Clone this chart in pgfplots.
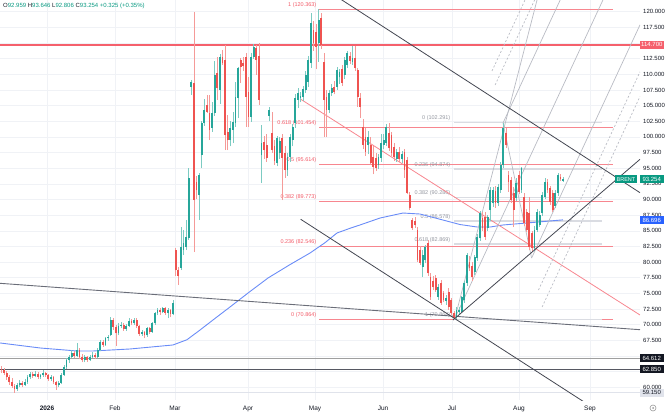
\documentclass[border=0pt]{standalone}
\usepackage{pgfplots}
\pgfplotsset{compat=1.18}
\usepackage{pgfplotstable}
\usepackage{fontspec}
\setmainfont{Liberation Sans}
\definecolor{upc}{HTML}{26A69A}
\definecolor{dnc}{HTML}{EF5350}
\definecolor{upw}{HTML}{7CCBC2}
\definecolor{dnw}{HTML}{F59A98}
\definecolor{fibred}{HTML}{F7868F}
\definecolor{fibredtxt}{HTML}{F25C69}
\definecolor{fibgray}{HTML}{DADCE2}
\definecolor{fibgraytxt}{HTML}{9598A1}
\definecolor{pitch}{HTML}{B8BBC3}
\definecolor{trend}{HTML}{434651}
\definecolor{longl}{HTML}{6A6D78}
\definecolor{mac}{HTML}{6A8CF7}
\definecolor{hl}{HTML}{F5606C}
\definecolor{gridc}{HTML}{F0F2F6}
\definecolor{tickc}{HTML}{131722}
\definecolor{brentc}{HTML}{089981}
\definecolor{bluec}{HTML}{2962FF}
\definecolor{blk}{HTML}{131722}
\definecolor{lgray}{HTML}{E0E3EB}
\definecolor{hdr}{HTML}{089981}
\tikzset{fl/.style={anchor=south east, inner sep=0.5pt, yshift=1pt, font=\fontsize{5.5}{6}\selectfont},
  pl/.style={anchor=west, inner xsep=1.5pt, inner ysep=1.2pt, font=\fontsize{6}{7}\selectfont, text=white, minimum width=24pt, minimum height=8pt}}
\pgfplotstableread{
i o h l c
0 63.0 63.4 62.3 62.8
1 62.8 63.1 61.9 62.3
2 62.3 62.6 61.2 61.6
3 61.6 61.9 60.4 60.8
4 60.8 61.5 59.9 60.2
5 60.2 60.6 59.15 59.7
6 59.7 60.7 59.4 60.3
7 60.3 61.2 60.0 60.7
8 60.7 61.0 60.0 60.4
9 60.4 61.3 60.2 60.9
10 60.9 61.9 60.6 61.6
11 61.6 62.5 61.3 62.1
12 62.1 62.4 61.5 61.8
13 61.8 62.6 61.6 62.2
14 62.2 62.5 61.4 61.7
15 61.7 62.2 61.3 61.9
16 61.9 62.7 61.7 62.3
17 62.3 62.5 61.6 61.9
18 61.9 62.1 61.0 61.3
19 61.3 61.9 61.0 61.6
20 61.6 61.8 60.5 60.8
21 60.8 61.0 59.6 60.3
22 60.3 61.0 60.0 60.7
23 60.7 62.3 60.5 62.0
24 62.0 63.5 61.8 63.2
25 63.2 64.6 63.0 64.3
26 64.3 65.2 63.9 64.9
27 64.9 65.9 64.6 65.5
28 65.5 65.8 64.7 65.0
29 65.0 67.1 64.8 66.0
30 66.0 66.3 64.5 64.8
31 64.8 65.3 64.0 64.3
32 64.3 65.1 64.0 64.8
33 64.8 65.0 64.1 64.4
34 64.4 65.2 64.2 64.9
35 64.9 65.6 64.6 65.2
36 65.2 65.5 64.5 64.8
37 64.8 66.3 64.6 66.0
38 66.0 67.5 65.8 67.2
39 67.2 67.6 66.5 66.8
40 66.8 68.1 66.6 67.8
41 67.8 68.4 67.4 68.1
42 68.3 71.2 68.2 70.8
43 70.8 71.0 69.2 69.6
44 69.6 69.9 66.6 68.6
45 68.6 70.2 68.3 69.8
46 69.8 70.4 69.4 70.0
47 70.0 70.2 69.0 69.3
48 69.3 70.1 69.0 69.8
49 69.8 71.0 69.6 70.6
50 70.6 70.9 69.9 70.2
51 70.2 71.1 70.0 70.8
52 70.8 71.0 69.5 69.8
53 69.8 70.0 68.2 68.5
54 68.5 69.2 68.2 68.8
55 68.8 69.0 67.8 68.3
56 68.3 69.7 68.1 69.4
57 69.4 69.6 68.5 68.9
58 68.9 70.5 68.7 70.2
59 70.2 72.1 70.0 71.8
60 71.8 72.7 71.5 72.4
61 72.4 72.6 71.6 72.0
62 72.0 72.9 71.8 72.6
63 72.6 72.8 71.6 71.9
64 71.9 72.6 71.0 72.3
65 72.3 72.5 71.2 71.7
66 71.7 73.9 71.5 73.5
67 81.9 82.2 77.8 78.7
68 78.7 79.2 76.4 77.8
69 79.1 85.6 78.7 82.4
70 81.9 85.1 81.1 83.0
71 82.4 86.7 81.9 84.0
72 83.8 95.0 83.5 93.4
73 108.0 109.1 106.7 108.8
74 108.6 120.0 81.6 89.9
75 92.8 93.8 90.0 91.5
76 90.7 94.2 86.7 93.9
77 97.1 102.6 95.0 102.2
78 102.2 106.0 101.8 104.3
79 105.1 106.7 103.8 104.0
80 103.8 106.7 99.5 101.1
81 101.5 105.5 100.8 103.8
82 103.8 112.2 103.3 109.9
83 110.2 112.8 105.9 107.8
84 107.5 113.3 105.3 112.8
85 112.8 113.9 111.5 111.8
86 112.3 114.7 97.9 100.3
87 100.8 103.5 97.9 99.5
88 99.5 102.5 98.5 101.5
89 101.1 104.0 99.0 102.4
90 102.2 108.8 101.6 106.4
91 106.2 111.2 103.0 111.0
92 112.3 112.6 108.6 111.2
93 111.8 112.8 110.5 111.4
94 112.8 113.4 101.6 106.4
95 107.2 109.6 101.6 103.2
96 103.2 113.4 102.4 112.8
97 112.8 114.9 112.5 114.4
98 114.2 114.7 109.9 112.3
99 113.0 115.0 105.1 105.9
100 97.1 101.9 92.6 99.0
101 99.2 100.2 96.5 97.9
102 98.7 100.5 96.0 96.6
103 103.4 104.8 102.5 104.3
104 100.6 104.0 97.5 97.9
105 98.5 99.5 95.5 96.2
106 95.8 100.2 95.3 99.8
107 97.5 100.0 96.5 99.4
108 99.8 100.5 89.9 96.7
109 97.4 98.5 93.5 94.7
110 94.7 97.5 93.8 96.8
111 96.8 100.5 96.0 100.0
112 99.5 102.0 98.5 101.6
113 102.2 106.8 101.5 106.2
114 105.9 107.8 104.6 107.0
115 106.2 107.2 105.5 106.6
116 106.4 108.2 105.8 107.6
117 107.5 110.5 107.0 109.9
118 108.8 113.0 108.0 112.3
119 111.8 119.8 111.0 118.2
120 117.1 118.5 113.8 115.0
121 116.8 118.0 110.8 114.4
122 115.0 120.363 112.0 118.7
123 119.0 119.8 114.0 114.7
124 112.0 113.4 100.0 105.9
125 106.4 107.5 100.0 104.3
126 104.3 107.5 103.8 107.0
127 107.0 108.5 106.5 107.8
128 108.0 109.0 106.8 107.2
129 108.0 111.2 107.5 110.7
130 109.5 110.8 108.5 110.3
131 110.8 111.5 108.2 108.6
132 109.9 112.8 109.2 112.3
133 111.5 113.8 111.0 113.4
134 113.0 113.6 111.6 112.2
135 112.0 114.5 111.5 112.6
136 112.6 114.6 110.6 111.0
137 110.7 111.0 104.8 106.4
138 106.2 107.0 103.0 104.8
139 101.6 102.8 98.0 98.7
140 100.0 101.5 97.0 97.6
141 98.7 101.0 97.2 100.0
142 98.7 100.0 95.5 95.8
143 96.8 98.5 94.0 95.2
144 96.6 97.5 94.6 95.0
145 95.5 97.2 94.8 96.8
146 96.6 100.5 96.0 99.0
147 98.7 100.5 98.0 99.5
148 99.0 102.0 98.6 101.6
149 100.6 102.2 97.8 98.2
150 100.3 100.8 97.0 97.5
151 98.4 99.0 96.2 96.8
152 96.5 98.0 96.0 97.6
153 97.6 98.4 96.0 96.4
154 96.4 97.8 95.8 97.2
155 97.6 98.0 93.5 94.7
156 96.3 96.8 90.8 91.0
157 90.7 91.2 88.3 88.6
158 86.7 87.0 85.2 85.4
159 86.5 87.2 85.5 85.9
160 85.1 85.6 80.0 80.3
161 82.0 82.6 79.5 79.9
162 79.2 81.9 77.6 81.1
163 80.3 82.8 79.8 82.4
164 83.0 83.6 77.8 78.2
165 77.6 78.2 74.0 74.4
166 77.0 77.8 75.5 76.0
167 77.4 78.0 75.2 75.5
168 74.4 76.5 74.0 76.0
169 76.6 77.2 73.2 73.4
170 75.0 75.4 73.6 73.9
171 73.8 74.8 73.2 74.2
172 75.2 75.8 72.4 72.8
173 73.9 74.3 71.6 71.8
174 71.8 72.2 70.864 71.0
175 71.2 72.8 70.95 72.3
176 72.0 72.8 71.6 72.4
177 72.0 74.6 71.8 74.4
178 73.9 77.0 73.5 76.6
179 76.6 81.5 76.2 81.1
180 80.0 81.0 78.5 79.0
181 79.4 80.0 77.0 77.6
182 78.4 81.2 78.0 80.8
183 80.6 84.5 80.2 84.0
184 83.8 88.2 83.4 87.8
185 87.0 88.0 85.0 85.4
186 87.2 88.0 83.6 84.0
187 85.4 87.5 85.0 87.2
188 88.3 92.0 86.5 91.5
189 89.4 92.0 88.8 91.5
190 91.3 92.2 88.7 89.4
191 89.4 92.5 89.0 92.0
192 91.5 96.0 91.0 95.5
193 95.5 102.291 95.0 101.4
194 100.6 101.5 98.2 98.7
195 93.9 94.5 91.2 92.8
196 93.1 93.6 89.5 89.9
197 91.0 92.0 85.6 88.3
198 90.2 93.5 89.7 92.6
199 93.9 94.5 90.8 91.2
200 91.5 95.2 91.0 95.0
201 90.4 91.0 85.8 86.2
202 88.0 88.5 84.8 85.1
203 87.8 90.4 81.9 82.4
204 84.6 85.0 81.6 82.2
205 82.2 85.8 81.8 85.1
206 85.1 88.5 84.8 88.0
207 86.0 88.2 85.6 87.6
208 87.8 91.2 87.4 90.7
209 90.4 93.4 90.0 92.8
210 92.8 93.2 91.0 91.5
211 91.8 92.2 89.2 89.6
212 91.0 91.5 88.0 88.3
213 89.0 91.5 88.6 91.0
214 91.0 94.2 90.6 93.9
215 93.6 94.0 92.9 93.2
216 92.959 93.646 92.806 93.254
}\candles
\begin{document}
\begin{tikzpicture}
\begin{axis}[at={(0pt,0pt)}, anchor=north west,
  width=640pt, height=400pt, scale only axis,
  xmin=0, xmax=640, ymin=57.97, ymax=121.87,
  set layers,
  clip mode=individual,
  axis line style={draw=none},
  major tick length=0pt,
  xtick={47,115,175,248,315,383,452,519,590},
  xticklabels={\textbf{2026},Feb,Mar,Apr,May,Jun,Jul,Aug,Sep},
  ytick={60,67.5,70,72.5,75,77.5,80,82.5,85,87.5,90,92.5,95,97.5,100,102.5,105,107.5,110,112.5,117.5,120},
  extra y ticks={62.5,65,115},
  extra y tick labels={},
  extra y tick style={grid=major},
  yticklabel pos=right,
  grid=major, grid style={gridc, line width=0.5pt},
  tick label style={font=\fontsize{6}{7}\selectfont, text=tickc},
  yticklabel={\pgfmathprintnumber[fixed,fixed zerofill,precision=3,assume math mode=true]{\tick}},
  yticklabel style={anchor=west, inner sep=0pt, xshift=3pt},
  xticklabel style={anchor=north, inner sep=0pt, yshift=-5.5pt, font=\fontsize{6.5}{7.5}\selectfont},
]
% horizontal price lines
\addplot[hl, line width=1.3pt] coordinates {(0,114.7) (640,114.7)};
\addplot[gray!75, line width=1.3pt] coordinates {(0,64.612) (640,64.612)};
\addplot[trend!90, line width=0.8pt] coordinates {(0,62.85) (640,62.85)};
\addplot[lgray, line width=0.8pt] coordinates {(0,59.15) (640,59.15)};
% red fib retracement
\addplot[fibred, line width=0.7pt] coordinates {(319,120.363) (613,120.363)};
\addplot[fibred, line width=0.7pt] coordinates {(319,101.454) (613,101.454)};
\addplot[fibred, line width=0.7pt] coordinates {(319,95.614) (613,95.614)};
\addplot[fibred, line width=0.7pt] coordinates {(319,89.773) (613,89.773)};
\addplot[fibred, line width=0.7pt] coordinates {(319,82.546) (613,82.546)};
\addplot[fibred, line width=0.7pt] coordinates {(319,70.864) (613,70.864)};
% gray fib retracement
\addplot[fibgray, line width=1.4pt] coordinates {(454,102.291) (602,102.291)};
\addplot[fibgray, line width=1.4pt] coordinates {(454,94.874) (602,94.874)};
\addplot[fibgray, line width=1.4pt] coordinates {(454,90.286) (602,90.286)};
\addplot[fibgray, line width=1.4pt] coordinates {(454,86.578) (602,86.578)};
\addplot[fibgray, line width=1.4pt] coordinates {(454,82.869) (602,82.869)};
\addplot[fibgray, line width=1.4pt] coordinates {(454,70.864) (602,70.864)};
% labels of fibs
\node[fl, text=fibredtxt] at (axis cs:317,120.363) {1 (120.363)};
\node[fl, text=fibredtxt] at (axis cs:317,101.454) {0.618 (101.454)};
\node[fl, text=fibredtxt] at (axis cs:317,95.614) {0.5 (95.614)};
\node[fl, text=fibredtxt] at (axis cs:317,89.773) {0.382 (89.773)};
\node[fl, text=fibredtxt] at (axis cs:317,82.546) {0.236 (82.546)};
\node[fl, text=fibredtxt] at (axis cs:317,70.864) {0 (70.864)};
\node[fl, text=fibgraytxt] at (axis cs:451,102.291) {0 (102.291)};
\node[fl, text=fibgraytxt] at (axis cs:451,94.874) {0.236 (94.874)};
\node[fl, text=fibgraytxt] at (axis cs:451,90.286) {0.382 (90.286)};
\node[fl, text=fibgraytxt] at (axis cs:451,86.578) {0.5 (86.578)};
\node[fl, text=fibgraytxt] at (axis cs:451,82.869) {0.618 (82.869)};
\node[fl, text=fibgraytxt] at (axis cs:451,70.864) {1 (70.864)};
% moving average
\addplot[mac, line width=0.9pt] coordinates {
(0,67.08) (40,66.28) (77,65.80) (93,65.80) (130,66.12) (173,66.76) (187,67.6) (200,69.15) (215,71.0) (230,72.83) (250,75.3) (268,77.46) (290,79.6) (310,81.45) (325,83.1) (337,84.65) (350,85.4) (360,85.93) (380,87.04) (403,87.84) (420,87.68) (443,86.72) (460,86.0) (477,85.61) (490,85.6) (503,85.93) (527,86.25) (545,86.5) (563,86.75)};
% long gray trend line
\addplot[longl, line width=0.9pt] coordinates {(0,76.61) (640,69.20)};
% red descending line
\addplot[fibred, line width=0.8pt] coordinates {(300,106.09) (640,71.55)};
% pitchfork and fan lines
\addplot[pitch, line width=0.7pt] coordinates {(455,71.07) (640,134.6)};
\addplot[pitch, line width=0.7pt] coordinates {(503,102.22) (640,149.3)};
\addplot[pitch, line width=0.7pt] coordinates {(531.6,80.65) (640,117.9)};
\addplot[pitch, line width=0.7pt] coordinates {(503,102.22) (531.6,80.65)};
\addplot[pitch, line width=0.7pt] coordinates {(455,71.07) (560,136.1)};
\addplot[pitch, line width=0.7pt, dash pattern=on 2pt off 2pt] coordinates {(492,110.53) (640,161.4)};
\addplot[pitch, line width=0.7pt, dash pattern=on 2pt off 2pt] coordinates {(495.1,108.29) (640,158.1)};
\addplot[pitch, line width=0.7pt, dash pattern=on 2pt off 2pt] coordinates {(538.5,75.54) (640,110.4)};
\addplot[pitch, line width=0.7pt, dash pattern=on 2pt off 2pt] coordinates {(542.1,72.83) (640,106.46)};
% candles: wicks
\addplot[draw=none, mark=none, restrict expr to domain={\thisrow{c}-\thisrow{o}}{0:1000},
  error bars/.cd, y dir=plus, y explicit, error mark=none, error bar style={draw=upw, line width=0.6pt}]
  table[x expr=1.5+2.6*\thisrow{i}, y=l, y error plus expr=\thisrow{h}-\thisrow{l}] {\candles};
\addplot[draw=none, mark=none, restrict expr to domain={\thisrow{o}-\thisrow{c}}{0.00001:1000},
  error bars/.cd, y dir=plus, y explicit, error mark=none, error bar style={draw=dnw, line width=0.6pt}]
  table[x expr=1.5+2.6*\thisrow{i}, y=l, y error plus expr=\thisrow{h}-\thisrow{l}] {\candles};
% candles: bodies
\addplot[draw=none, mark=none, restrict expr to domain={\thisrow{c}-\thisrow{o}}{0:1000},
  error bars/.cd, y dir=plus, y explicit, error mark=none, error bar style={draw=upc, line width=1.9pt}]
  table[x expr=1.5+2.6*\thisrow{i}, y=o, y error plus expr=\thisrow{c}-\thisrow{o}] {\candles};
\addplot[draw=none, mark=none, restrict expr to domain={\thisrow{o}-\thisrow{c}}{0.00001:1000},
  error bars/.cd, y dir=plus, y explicit, error mark=none, error bar style={draw=dnc, line width=1.9pt}]
  table[x expr=1.5+2.6*\thisrow{i}, y=c, y error plus expr=\thisrow{o}-\thisrow{c}] {\candles};
% black trend lines
\addplot[trend, line width=0.8pt] coordinates {(330,123.1) (640,91.09)};
\addplot[trend, line width=0.8pt] coordinates {(453,70.75) (640,96.42)};
\addplot[trend, line width=0.8pt] coordinates {(300.7,86.84) (640,51.9)};
% header
\node[anchor=west, inner sep=0pt, font=\fontsize{6}{7}\selectfont] at (axis cs:3,120.95)
 {\textcolor{tickc}{O}\textcolor{hdr}{92.959}\ \textcolor{tickc}{H}\textcolor{hdr}{93.646}\ \textcolor{tickc}{L}\textcolor{hdr}{92.806}\ \textcolor{tickc}{C}\textcolor{hdr}{93.254}\ \textcolor{hdr}{+0.325 (+0.35\%)}};
% right scale labels
\node[pl, fill=hl] at (axis cs:639.5,114.7) {114.700};
\node[pl, fill=brentc] at (axis cs:639.5,93.254) {93.254};
\node[anchor=east, inner xsep=2pt, inner ysep=1.2pt, minimum height=8pt, fill=brentc, text=white, font=\fontsize{5.5}{6}\selectfont] at (axis cs:637.5,93.254) {BRENT};
\node[pl, fill=bluec] at (axis cs:639.5,86.696) {86.696};
\node[pl, fill=blk] at (axis cs:639.5,64.612) {64.612};
\node[pl, fill=blk] at (axis cs:639.5,62.85) {62.850};
\node[pl, fill=lgray, text=tickc] at (axis cs:639.5,59.15) {59.150};
\end{axis}
\draw[gray!80, line width=0.6pt] (653pt,-408pt) circle (3pt);
\fill[gray!80] (653pt,-408pt) circle (1pt);
\pgfresetboundingbox
\path[use as bounding box] (0pt,0pt) rectangle (665pt,-417pt);
\end{tikzpicture}
\end{document}
